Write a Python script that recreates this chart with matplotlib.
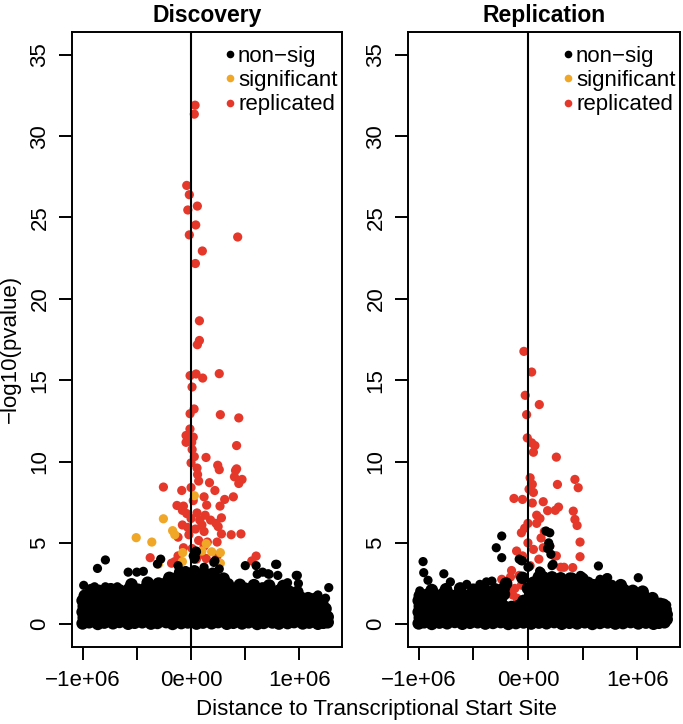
import numpy as np
import matplotlib
matplotlib.use('Agg')
import matplotlib.pyplot as plt
from matplotlib.lines import Line2D

plt.rcParams['font.family'] = ['Liberation Sans', 'DejaVu Sans']

RED = '#E5382B'
ORANGE = '#F0A626'

# ---------------- Discovery panel (x in Mb, y = -log10 p) ----------------
# dense mass of non-significant points near zero
disc_band_x = [
    -1.00, -0.94, -0.86, -0.80, -0.72, -0.66, -0.58, -0.52, -0.45, -0.37, -0.31, -0.23, -0.17, -0.09, -0.03,
    0.05, 0.11, 0.19, 0.25, 0.33, 0.39, 0.47, 0.53, 0.61, 0.67, 0.75, 0.81, 0.89, 0.95, 1.03, 1.09, 1.17, 1.22, 1.26,
    -0.99, -0.90, -0.83, -0.76, -0.69, -0.62, -0.55, -0.48, -0.41, -0.34, -0.27, -0.20, -0.13, -0.06, 0.01,
    0.08, 0.15, 0.22, 0.29, 0.36, 0.43, 0.50, 0.57, 0.64, 0.71, 0.78, 0.85, 0.92, 0.99, 1.06, 1.13, 1.19, 1.25,
    -1.00, -0.93, -0.87, -0.79, -0.73, -0.65, -0.59, -0.51, -0.44, -0.38, -0.30, -0.24, -0.16, -0.10, -0.02,
    0.04, 0.12, 0.18, 0.26, 0.32, 0.40, 0.46, 0.54, 0.60, 0.68, 0.74, 0.82, 0.88, 0.96, 1.02, 1.10, 1.16, 1.21, 1.26,
    -0.99, -0.91, -0.84, -0.77, -0.70, -0.63, -0.56, -0.49, -0.42, -0.35, -0.28, -0.21, -0.14, -0.07, 0.00,
    0.07, 0.14, 0.21, 0.28, 0.35, 0.42, 0.49, 0.56, 0.63, 0.70, 0.77, 0.84, 0.91, 0.98, 1.05, 1.12, 1.19, 1.24,
    -1.00, -0.93, -0.86, -0.79, -0.72, -0.65, -0.58, -0.51, -0.44, -0.37, -0.30, -0.23, -0.16, -0.09, -0.02,
    0.05, 0.12, 0.19, 0.26, 0.33, 0.40, 0.47, 0.54, 0.61, 0.68, 0.75, 0.82, 0.89, 0.96, 1.03, 1.10, 1.16, 1.21,
    -0.98, -0.90, -0.83, -0.75, -0.68, -0.60, -0.53, -0.46, -0.39, -0.32, -0.25, -0.18, -0.11, -0.04, 0.03,
    0.10, 0.17, 0.24, 0.31, 0.38, 0.45, 0.52, 0.59, 0.66, 0.73, 0.80, 0.87, 0.94, 1.01, 1.08, 1.14,
    -0.92, -0.85, -0.74, -0.66, -0.57, -0.49, -0.42, -0.34, -0.27, -0.20, -0.13, -0.06, 0.01, 0.08, 0.15,
    0.22, 0.29, 0.36, 0.43, 0.50, 0.58, 0.66, 0.73, 0.81, 0.90, 0.98,
    -0.55, -0.40, -0.30, -0.22, -0.15, -0.08, -0.01, 0.06, 0.13, 0.20, 0.27, 0.34, 0.45, 0.58, 0.72, 0.85,
    -0.20, -0.12, -0.05, 0.02, 0.09, 0.16, 0.23, 0.30, -0.10, 0.03, 0.12, 0.20,
]
disc_band_y = [
    0.05, 0.12, 0.02, 0.10, 0.06, 0.14, 0.03, 0.09, 0.12, 0.04, 0.08, 0.13, 0.02, 0.07, 0.11,
    0.04, 0.10, 0.06, 0.13, 0.03, 0.09, 0.05, 0.12, 0.02, 0.08, 0.11, 0.04, 0.07, 0.13, 0.05, 0.10, 0.03, 0.09, 0.12,
    0.40, 0.36, 0.44, 0.38, 0.42, 0.35, 0.45, 0.39, 0.41, 0.37, 0.43, 0.40, 0.36, 0.44, 0.38,
    0.42, 0.35, 0.45, 0.39, 0.41, 0.37, 0.43, 0.40, 0.36, 0.44, 0.38, 0.42, 0.35, 0.45, 0.39, 0.41, 0.37, 0.43,
    0.75, 0.71, 0.79, 0.73, 0.77, 0.70, 0.80, 0.74, 0.76, 0.72, 0.78, 0.75, 0.71, 0.79, 0.73,
    0.77, 0.70, 0.80, 0.74, 0.76, 0.72, 0.78, 0.75, 0.71, 0.79, 0.73, 0.77, 0.70, 0.80, 0.74, 0.76, 0.72, 0.78, 0.45,
    1.10, 1.06, 1.14, 1.08, 1.12, 1.05, 1.15, 1.09, 1.11, 1.07, 1.13, 1.10, 1.06, 1.14, 1.08,
    1.12, 1.05, 1.15, 1.09, 1.11, 1.07, 1.13, 1.10, 1.06, 1.14, 1.08, 1.12, 1.05, 1.15, 1.09, 1.11, 1.07, 0.95,
    1.45, 1.41, 1.49, 1.43, 1.47, 1.40, 1.50, 1.44, 1.46, 1.42, 1.48, 1.45, 1.41, 1.49, 1.43,
    1.47, 1.40, 1.50, 1.44, 1.46, 1.42, 1.48, 1.45, 1.41, 1.49, 1.43, 1.47, 1.40, 1.50, 1.44, 1.38, 1.30, 1.25,
    1.75, 1.82, 1.70, 1.85, 1.78, 1.80, 1.74, 1.86, 1.79, 1.83, 1.76, 1.84, 1.80, 1.77, 1.85,
    1.81, 1.75, 1.86, 1.79, 1.83, 1.76, 1.84, 1.78, 1.82, 1.74, 1.80, 1.72, 1.68, 1.64, 1.60, 1.55,
    2.10, 2.05, 2.15, 2.08, 2.18, 2.12, 2.20, 2.16, 2.22, 2.18, 2.24, 2.20, 2.26, 2.22, 2.18,
    2.20, 2.24, 2.16, 2.22, 2.18, 2.14, 2.20, 2.10, 2.06, 2.02, 1.98,
    2.45, 2.55, 2.50, 2.58, 2.52, 2.60, 2.55, 2.62, 2.56, 2.50, 2.54, 2.46, 2.42, 2.40, 2.38, 2.35,
    2.85, 2.90, 2.95, 2.88, 2.92, 2.86, 2.82, 2.80, 3.20, 3.25, 3.15, 3.10,
]
# individual non-significant points above the mass
disc_black_x = [
    -0.79, -0.863, -0.99, -0.89, -0.79, -0.68, -0.58, -0.50, -0.44, -0.31, -0.28, 0.02, 0.05, 0.03, 0.21,
    0.60, 0.66, 0.71, 0.80, 0.78, 0.97, 0.99, 0.89, 1.27, 1.17, 1.24, 0.046, 0.04, -0.12, -0.05, 0.12,
    0.22, 0.26, 0.50, 0.61, 0.72, 0.79, 0.98,
]
disc_black_y = [
    3.95, 3.43, 2.39, 2.30, 2.30, 2.30, 3.20, 3.20, 3.25, 3.70, 4.00, 4.20, 4.45, 4.00, 3.80,
    3.60, 3.20, 3.10, 3.00, 3.68, 3.00, 2.50, 2.55, 2.25, 1.80, 1.60, 4.50, 4.10, 3.60, 3.30, 3.50,
    3.90, 3.40, 3.60, 3.07, 3.07, 3.68, 3.00,
]

disc_sig_x = [-0.506, -0.362, -0.255, -0.17, -0.15, -0.077, -0.08, 0.14, 0.19, 0.27, 0.27, -0.30, 0.10, 0.03]
disc_sig_y = [5.32, 5.05, 6.48, 5.75, 5.50, 4.40, 3.85, 4.95, 4.45, 4.40, 3.75, 3.70, 4.50, 7.90]

disc_rep_x = [
    0.037, 0.03, -0.04, -0.016, 0.058, -0.03, 0.043, -0.016, 0.43, 0.104, 0.04,
    0.077, 0.077, 0.058, -0.009, 0.046, 0.107, 0.26, 0.009, 0.028, -0.009, 0.27, 0.44, -0.01, -0.046,
    -0.046, 0.006, 0.01, 0.42, 0.138, 0.00, 0.246, 0.055, 0.42,
    0.26, 0.41, 0.40, 0.47, 0.44, 0.06, 0.07, 0.17, -0.255, 0.22, -0.086, 0.12, 0.39, 0.31, 0.144,
    0.267, -0.13, -0.07, -0.08, -0.04, 0.055, 0.13, 0.08, 0.28, 0.23, 0.25,
    -0.08, -0.03, 0.04, 0.12, 0.28, 0.37, 0.46, -0.12, 0.07, 0.15, 0.24, -0.07, 0.01, 0.12,
    -0.377, -0.12, 0.14, 0.24, 0.60, 0.56, -0.15, -0.18, 0.09, 0.05,
    0.02, 0.00, 0.10, -0.02, 0.18, 0.03, 0.02, 0.00,
]
disc_rep_y = [
    31.90, 31.35, 26.97, 26.40, 25.70, 25.46, 24.54, 23.93, 23.80, 22.94, 22.17,
    18.65, 17.44, 17.18, 15.28, 15.38, 15.13, 15.40, 14.58, 13.23, 12.94, 12.88, 12.68, 12.00, 11.60,
    11.18, 11.18, 10.74, 10.98, 10.25, 9.92, 9.77, 9.60, 9.55,
    9.50, 9.45, 9.06, 8.90, 8.65, 9.20, 8.80, 8.70, 8.43, 8.22, 8.22, 7.83, 7.83, 7.67, 7.32,
    7.26, 7.30, 7.26, 7.00, 6.80, 6.84, 6.70, 6.40, 6.54, 6.20, 6.00,
    6.10, 5.95, 5.85, 5.70, 5.55, 5.50, 5.55, 5.35, 5.15, 5.05, 5.05, 4.70, 4.65, 4.80,
    4.09, 4.20, 4.04, 4.20, 4.19, 3.89, 3.85, 3.75, 4.30, 4.00,
    7.60, 6.50, 6.10, 5.50, 6.40, 10.30, 11.50, 8.40,
]

# ---------------- Replication panel ----------------
rep_band_x = [
    -1.00, -0.95, -0.88, -0.81, -0.74, -0.67, -0.60, -0.53, -0.46, -0.39, -0.32, -0.25, -0.18, -0.11, -0.04,
    0.03, 0.10, 0.17, 0.24, 0.31, 0.38, 0.45, 0.52, 0.59, 0.66, 0.73, 0.80, 0.87, 0.94, 1.01, 1.08, 1.15, 1.20, 1.25, 1.27,
    -0.99, -0.92, -0.85, -0.78, -0.71, -0.64, -0.57, -0.50, -0.43, -0.36, -0.29, -0.22, -0.15, -0.08, -0.01,
    0.06, 0.13, 0.20, 0.27, 0.34, 0.41, 0.48, 0.55, 0.62, 0.69, 0.76, 0.83, 0.90, 0.97, 1.04, 1.11, 1.17, 1.22, 1.27,
    -1.00, -0.95, -0.88, -0.81, -0.74, -0.67, -0.60, -0.53, -0.46, -0.39, -0.32, -0.25, -0.18, -0.11, -0.04,
    0.03, 0.10, 0.17, 0.24, 0.31, 0.38, 0.45, 0.52, 0.59, 0.66, 0.73, 0.80, 0.87, 0.94, 1.01, 1.08, 1.15, 1.21, 1.26,
    -0.99, -0.92, -0.85, -0.78, -0.71, -0.64, -0.57, -0.50, -0.43, -0.36, -0.29, -0.22, -0.15, -0.08, -0.01,
    0.06, 0.13, 0.20, 0.27, 0.34, 0.41, 0.48, 0.55, 0.62, 0.69, 0.76, 0.83, 0.90, 0.97, 1.04, 1.11, 1.18, 1.24,
    -1.00, -0.95, -0.88, -0.81, -0.74, -0.67, -0.60, -0.53, -0.46, -0.39, -0.32, -0.25, -0.04,
    0.03, 0.10, 0.17, 0.24, 0.31, 0.38, 0.45, 0.52, 0.59, 0.66, 0.73, 0.80, 0.87, 0.94, 1.01, 1.08, 1.15, 1.21,
    -0.99, -0.92, -0.85, -0.78, -0.71, -0.64, -0.57, -0.50, -0.43, -0.36, -0.29, -0.22, 0.02,
    0.09, 0.16, 0.23, 0.30, 0.37, 0.44, 0.51, 0.58, 0.65, 0.72, 0.79, 0.86, 0.93, 1.00, 1.07, 1.14,
    -0.88, -0.75, -0.62, -0.50, -0.40, -0.30, -0.22, 0.00, 0.07, 0.14, 0.21, 0.28, 0.35, 0.42,
    0.49, 0.56, 0.64, 0.72, 0.80, 0.88, 0.96, 1.05,
    -0.20, 0.05, 0.15, 0.25, 0.33, 0.45, 0.55, 0.70, 0.85, -0.05, 0.10, 0.22, 0.30, 0.40, 0.50,
]
rep_band_y = [
    0.05, 0.12, 0.02, 0.10, 0.06, 0.14, 0.03, 0.09, 0.12, 0.04, 0.08, 0.13, 0.02, 0.07, 0.11,
    0.04, 0.10, 0.06, 0.13, 0.03, 0.09, 0.05, 0.12, 0.02, 0.08, 0.11, 0.04, 0.07, 0.13, 0.05, 0.10, 0.03, 0.09, 0.12, 0.30,
    0.40, 0.36, 0.44, 0.38, 0.42, 0.35, 0.45, 0.39, 0.41, 0.37, 0.43, 0.40, 0.36, 0.44, 0.38,
    0.42, 0.35, 0.45, 0.39, 0.41, 0.37, 0.43, 0.40, 0.36, 0.44, 0.38, 0.42, 0.35, 0.45, 0.39, 0.41, 0.37, 0.43, 0.60,
    0.75, 0.71, 0.79, 0.73, 0.77, 0.70, 0.80, 0.74, 0.76, 0.72, 0.78, 0.75, 0.71, 0.79, 0.73,
    0.77, 0.70, 0.80, 0.74, 0.76, 0.72, 0.78, 0.75, 0.71, 0.79, 0.73, 0.77, 0.70, 0.80, 0.74, 0.76, 0.72, 0.78, 0.90,
    1.10, 1.06, 1.14, 1.08, 1.12, 1.05, 1.15, 1.09, 1.11, 1.07, 1.13, 1.10, 1.06, 1.14, 1.08,
    1.12, 1.05, 1.15, 1.09, 1.11, 1.07, 1.13, 1.10, 1.06, 1.14, 1.08, 1.12, 1.05, 1.15, 1.09, 1.11, 1.07, 1.20,
    1.45, 1.41, 1.49, 1.43, 1.47, 1.40, 1.50, 1.44, 1.46, 1.42, 1.48, 1.45, 1.43,
    1.47, 1.40, 1.50, 1.44, 1.46, 1.42, 1.48, 1.45, 1.41, 1.49, 1.43, 1.47, 1.40, 1.50, 1.44, 1.35, 1.30, 1.25,
    1.75, 1.82, 1.70, 1.85, 1.78, 1.80, 1.74, 1.86, 1.79, 1.83, 1.76, 1.84, 1.80,
    1.81, 1.75, 1.86, 1.79, 1.83, 1.76, 1.84, 1.78, 1.82, 1.74, 1.80, 1.76, 1.72, 1.70, 1.66, 1.60,
    2.10, 2.15, 2.20, 2.12, 2.18, 2.14, 2.22, 2.20, 2.26, 2.22, 2.28, 2.24, 2.30, 2.26,
    2.22, 2.25, 2.20, 2.16, 2.12, 2.10, 2.05, 2.00,
    2.50, 2.55, 2.60, 2.52, 2.58, 2.50, 2.54, 2.46, 2.40, 2.85, 2.90, 2.88, 2.82, 2.80, 2.78,
]
rep_black_x = [
    -0.96, -0.954, -0.915, -0.89, -0.99, -0.77, -0.71, -0.56, -0.44, -0.38, -0.33, -0.29, -0.24, -0.24,
    -0.08, -0.05, 0.01, 0.165, 0.20, 0.19, 0.18, 0.22, 0.12, 0.30, 0.38, 0.48, 0.645, 0.72, 0.77,
    1.01, 1.27, 1.27, 0.60, 0.65, 0.20, 0.21, -0.06, 0.00, 0.107, 0.23, 0.15, 0.73, 0.66, 0.49, 0.32,
]
rep_black_y = [
    3.85, 3.17, 2.70, 2.15, 2.05, 3.10, 2.60, 2.45, 2.45, 2.60, 2.65, 4.70, 5.42, 4.09,
    4.00, 3.90, 3.54, 5.73, 5.62, 5.00, 4.65, 3.60, 3.20, 2.80, 2.90, 3.00, 3.58, 2.85, 2.45,
    2.86, 1.18, 0.20, 2.50, 2.60, 4.80, 4.30, 3.90, 3.50, 3.27, 3.68, 2.96, 2.86, 2.76, 2.96, 2.76,
]

rep_sig_x = [-0.20, -0.11, -0.15]
rep_sig_y = [1.10, 0.90, 1.00]

rep_rep_x = [
    -0.037, 0.034, -0.025, 0.104, -0.012, -0.006, 0.034, 0.064, 0.05, 0.26, 0.43, 0.46, 0.27,
    0.02, 0.04, 0.01, 0.05, -0.128, -0.05, 0.04, 0.14, 0.28, 0.25, 0.18, 0.415, 0.43, 0.45,
    0.08, 0.11, 0.08, 0.00, -0.03, 0.477, 0.477, 0.41, 0.39, 0.30, 0.33, 0.29, -0.06, -0.104,
    -0.15, -0.16, -0.24, -0.16, 0.00, 0.05, 0.10, 0.14, 0.12, 0.15, 0.24, 0.20, 0.02, -0.05,
    -0.08, -0.12, -0.10, -0.06, 0.26, -0.14, -0.09,
]
rep_rep_y = [
    16.77, 15.50, 14.07, 13.50, 12.88, 11.45, 11.15, 10.98, 10.57, 10.27, 8.90, 8.39, 8.59,
    9.00, 8.60, 8.30, 8.10, 7.73, 7.67, 7.45, 7.53, 7.20, 7.00, 6.98, 6.95, 6.44, 6.07,
    6.70, 6.50, 6.20, 6.20, 5.90, 5.05, 4.15, 3.48, 2.85, 3.50, 3.50, 2.25, 5.62, 4.50,
    3.30, 2.90, 2.76, 2.10, 5.00, 4.60, 4.00, 4.70, 5.30, 5.70, 4.20, 4.80, 3.60, 4.20,
    3.00, 2.20, 1.60, 2.40, 4.20, 1.80, 1.50,
]

panels = [
    ('Discovery', disc_band_x, disc_band_y, disc_black_x, disc_black_y,
     disc_sig_x, disc_sig_y, disc_rep_x, disc_rep_y),
    ('Replication', rep_band_x, rep_band_y, rep_black_x, rep_black_y,
     rep_sig_x, rep_sig_y, rep_rep_x, rep_rep_y),
]

fig = plt.figure(figsize=(6.83, 7.24), dpi=100)
W, H = 683, 724
boxes = [(72, 342), (408, 680)]
top_px, bot_px = 32, 647

for (title, nx, ny, bx, by, sx, sy, rx, ry), (l, r) in zip(panels, boxes):
    ax = fig.add_axes([l / W, 1 - bot_px / H, (r - l) / W, (bot_px - top_px) / H])
    pt_size = 44
    ax.scatter(np.array(rx) * 1e6, ry, s=pt_size, color=RED, edgecolors='none', zorder=2)
    ax.scatter(np.array(sx) * 1e6, sy, s=pt_size, color=ORANGE, edgecolors='none', zorder=3)
    # the overlapping mass of thousands of points reads as one solid black band
    ax.scatter(np.array(nx) * 1e6, ny, s=82, color='black', edgecolors='none', zorder=4)
    ax.scatter(np.array(bx) * 1e6, by, s=pt_size, color='black', edgecolors='none', zorder=4)
    ax.axvline(0, color='black', lw=1.5, zorder=5)

    ax.set_xlim(-1.098e6, 1.392e6)
    ax.set_ylim(-1.4, 36.4)
    ax.set_xticks([-1e6, -5e5, 0, 5e5, 1e6])
    ax.set_xticklabels(['\u22121e+06', '', '0e+00', '', '1e+06'])
    ax.set_yticks([0, 5, 10, 15, 20, 25, 30, 35])
    ax.set_yticklabels(['0', '5', '10', '15', '20', '25', '30', '35'], rotation=90, va='center')
    ax.tick_params(axis='both', direction='out', length=9.5, width=1.4, labelsize=16)
    ax.tick_params(axis='x', pad=7)
    ax.tick_params(axis='y', pad=6)
    for sp in ax.spines.values():
        sp.set_linewidth(1.4)
    ax.set_title(title, fontsize=16.5, fontweight='bold', pad=7)

    handles = [
        Line2D([], [], marker='o', ls='none', color='black', markersize=5.5, markeredgewidth=0),
        Line2D([], [], marker='o', ls='none', color=ORANGE, markersize=5.5, markeredgewidth=0),
        Line2D([], [], marker='o', ls='none', color=RED, markersize=5.5, markeredgewidth=0),
    ]
    ax.legend(handles, ['non\u2212sig', 'significant', 'replicated'], loc='upper right',
              bbox_to_anchor=(1.0, 0.985), frameon=False, fontsize=16, handlelength=0.4,
              handletextpad=0.15, labelspacing=0.15, borderaxespad=0.1, borderpad=0.1)

fig.text(10 / W, 1 - 349 / H, '\u2212log10(pvalue)', rotation=90, fontsize=16,
         ha='center', va='center')
fig.text(376 / W, 1 - 709 / H, 'Distance to Transcriptional Start Site', fontsize=16,
         ha='center', va='center')

fig.savefig('out.png', dpi=100)
